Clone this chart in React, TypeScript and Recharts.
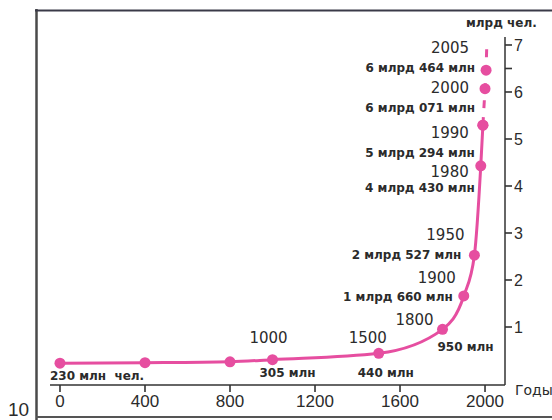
import { LineChart, Line, XAxis, YAxis, LabelList } from 'recharts'

// world population, bn people
const YEARS = [0, 400, 800, 1000, 1500, 1800, 1900, 1950, 1980, 1990, 2000, 2005]
const POPULATION = [0.23, 0.24, 0.26, 0.305, 0.44, 0.95, 1.66, 2.527, 4.43, 5.294, 6.071, 6.464]
const YEAR_LABELS = ['', '', '', '1000', '1500', '1800', '1900', '1950', '1980', '1990', '2000', '2005']
const VALUE_LABELS = [
  '230 млн  чел.',
  '',
  '',
  '305 млн',
  '440 млн',
  '950 млн',
  '1 млрд 660 млн',
  '2 млрд 527 млн',
  '4 млрд 430 млн',
  '5 млрд 294 млн',
  '6 млрд 071 млн',
  '6 млрд 464 млн',
]
const TREND_YEAR = 2008
const TREND_VALUE = 6.95
const X_TICKS = [0, 400, 800, 1200, 1600, 2000]
const Y_TICKS = [1, 2, 3, 4, 5, 6, 6.5, 7]

const PINK = '#e64ea0'
const INK = '#2b2b2b'
const SANS = 'DejaVu Sans, sans-serif'
const NUM_FONT = 'Liberation Sans, sans-serif'

type Anchor = 'start' | 'middle' | 'end'
type Pos = [number, number, Anchor] | null

// label offsets from each point (dx, dy, anchor)
const YEAR_POS: Pos[] = [
  null, null, null,
  [-4, -22, 'middle'],
  [-11, -15, 'middle'],
  [-28, -9, 'middle'],
  [-27, -18, 'middle'],
  [-29, -20, 'middle'],
  [-12, 6, 'end'],
  [-14, 8, 'end'],
  [-16, -1, 'end'],
  [-17, -22, 'end'],
]
const VALUE_POS: Pos[] = [
  [-10, 13, 'start'],
  null, null,
  [15, 13, 'middle'],
  [7, 20, 'middle'],
  [23, 18, 'middle'],
  [-11, 1, 'end'],
  [-13, 0, 'end'],
  [-6, 22, 'end'],
  [-8, 28, 'end'],
  [-10, 19, 'end'],
  [-11, -2, 'end'],
]

const rows: any[] = YEARS.map((year, i) => ({
  year,
  pop: POPULATION[i],
  solid: year <= 1990 ? POPULATION[i] : null,
  dashed: year >= 1990 ? POPULATION[i] : null,
}))
rows.push({ year: TREND_YEAR, pop: null, solid: null, dashed: TREND_VALUE })

function makeLabel(texts: string[], layout: Pos[], size: number, weight: string) {
  return (props: any) => {
    const { x, y, index } = props
    const pos = layout[index]
    const text = texts[index]
    if (!pos || !text || x == null || y == null) return null
    return (
      <text
        key={`${weight}-${index}`}
        x={x + pos[0]}
        y={y + pos[1]}
        textAnchor={pos[2]}
        dominantBaseline="central"
        fontSize={size}
        fontWeight={weight}
        fontFamily={SANS}
        fill={INK}
        style={{ whiteSpace: 'pre' }}
      >
        {text}
      </text>
    )
  }
}

function Dot(props: any) {
  const { cx, cy, payload, index } = props
  if (cx == null || cy == null || payload.year === TREND_YEAR) return <g key={`d-${index}`} />
  return <circle key={`d-${index}`} cx={cx} cy={cy} r={5.5} fill={PINK} />
}

// y tick: dash to the right of the axis + number (half step has no number)
function YTick(props: any) {
  const { x, y, payload } = props
  return (
    <g>
      <line x1={x - 9} x2={x - 2} y1={y} y2={y} stroke="#333" strokeWidth={1.6} />
      {payload.value !== 6.5 && (
        <text x={x} y={y} dy="0.355em" textAnchor="start" fontSize={16} fill={INK} fontFamily={NUM_FONT}>
          {payload.value}
        </text>
      )}
    </g>
  )
}

// x tick: short mark below the axis + year
function XTick(props: any) {
  const { x, y, payload } = props
  return (
    <g>
      <line x1={x} x2={x} y1={y - 10} y2={y - 3} stroke="#333" strokeWidth={1.6} />
      <text x={x} y={y} dy="0.71em" textAnchor="middle" fontSize={17} fill={INK} fontFamily={NUM_FONT}>
        {payload.value}
      </text>
    </g>
  )
}

export default function App() {
  return (
    <div style={{ position: 'relative', width: 552, height: 420, background: '#fff' }}>
      <style>{'body{margin:0}'}</style>
      <LineChart
        width={552}
        height={420}
        data={rows}
        margin={{ top: 37, right: 0, bottom: 5, left: 50 }}
      >
        <XAxis
          dataKey="year"
          type="number"
          domain={[-47, 2094]}
          allowDataOverflow
          ticks={X_TICKS}
          interval={0}
          height={30}
          tickSize={6}
          tickMargin={4}
          stroke="#333"
          strokeWidth={1.5}
          tickLine={false}
          tick={<XTick />}
        />
        <YAxis
          orientation="right"
          type="number"
          domain={[-0.234, 7.17]}
          allowDataOverflow
          ticks={Y_TICKS}
          interval={0}
          width={47}
          tickSize={6}
          tickMargin={3}
          stroke="#333"
          strokeWidth={1.5}
          tickLine={false}
          tick={<YTick />}
        />
        <Line
          dataKey="solid"
          type="monotone"
          stroke={PINK}
          strokeWidth={3}
          dot={<Dot />}
          activeDot={false}
          isAnimationActive={false}
        />
        <Line
          dataKey="dashed"
          type="linear"
          stroke={PINK}
          strokeWidth={3}
          strokeDasharray="8 9"
          dot={<Dot />}
          activeDot={false}
          isAnimationActive={false}
        />
        <Line
          dataKey="pop"
          stroke="none"
          dot={false}
          activeDot={false}
          isAnimationActive={false}
        >
          <LabelList dataKey="pop" content={makeLabel(YEAR_LABELS, YEAR_POS, 15, 'normal')} />
          <LabelList dataKey="pop" content={makeLabel(VALUE_LABELS, VALUE_POS, 12, 'bold')} />
        </Line>
      </LineChart>
      <svg
        width={552}
        height={420}
        style={{ position: 'absolute', left: 0, top: 0, pointerEvents: 'none' }}
      >
        <line x1={36.5} y1={9} x2={36.5} y2={420} stroke="#4a4a4a" strokeWidth={2.5} />
        <line x1={35} y1={10.5} x2={552} y2={10.5} stroke="#3a3a48" strokeWidth={2} />
        <line x1={36} y1={417} x2={552} y2={417} stroke="#555" strokeWidth={2} />
        <text x={466} y={23} dominantBaseline="central" fontSize={12} fontWeight="bold" fontFamily={SANS} fill={INK}>
          млрд чел.
        </text>
        <text x={515} y={390} dominantBaseline="central" fontSize={14} fontFamily={SANS} fill={INK}>
          Годы
        </text>
        <text x={8} y={416} fontSize={19} fontFamily={NUM_FONT} fill={INK}>
          10
        </text>
      </svg>
    </div>
  )
}
